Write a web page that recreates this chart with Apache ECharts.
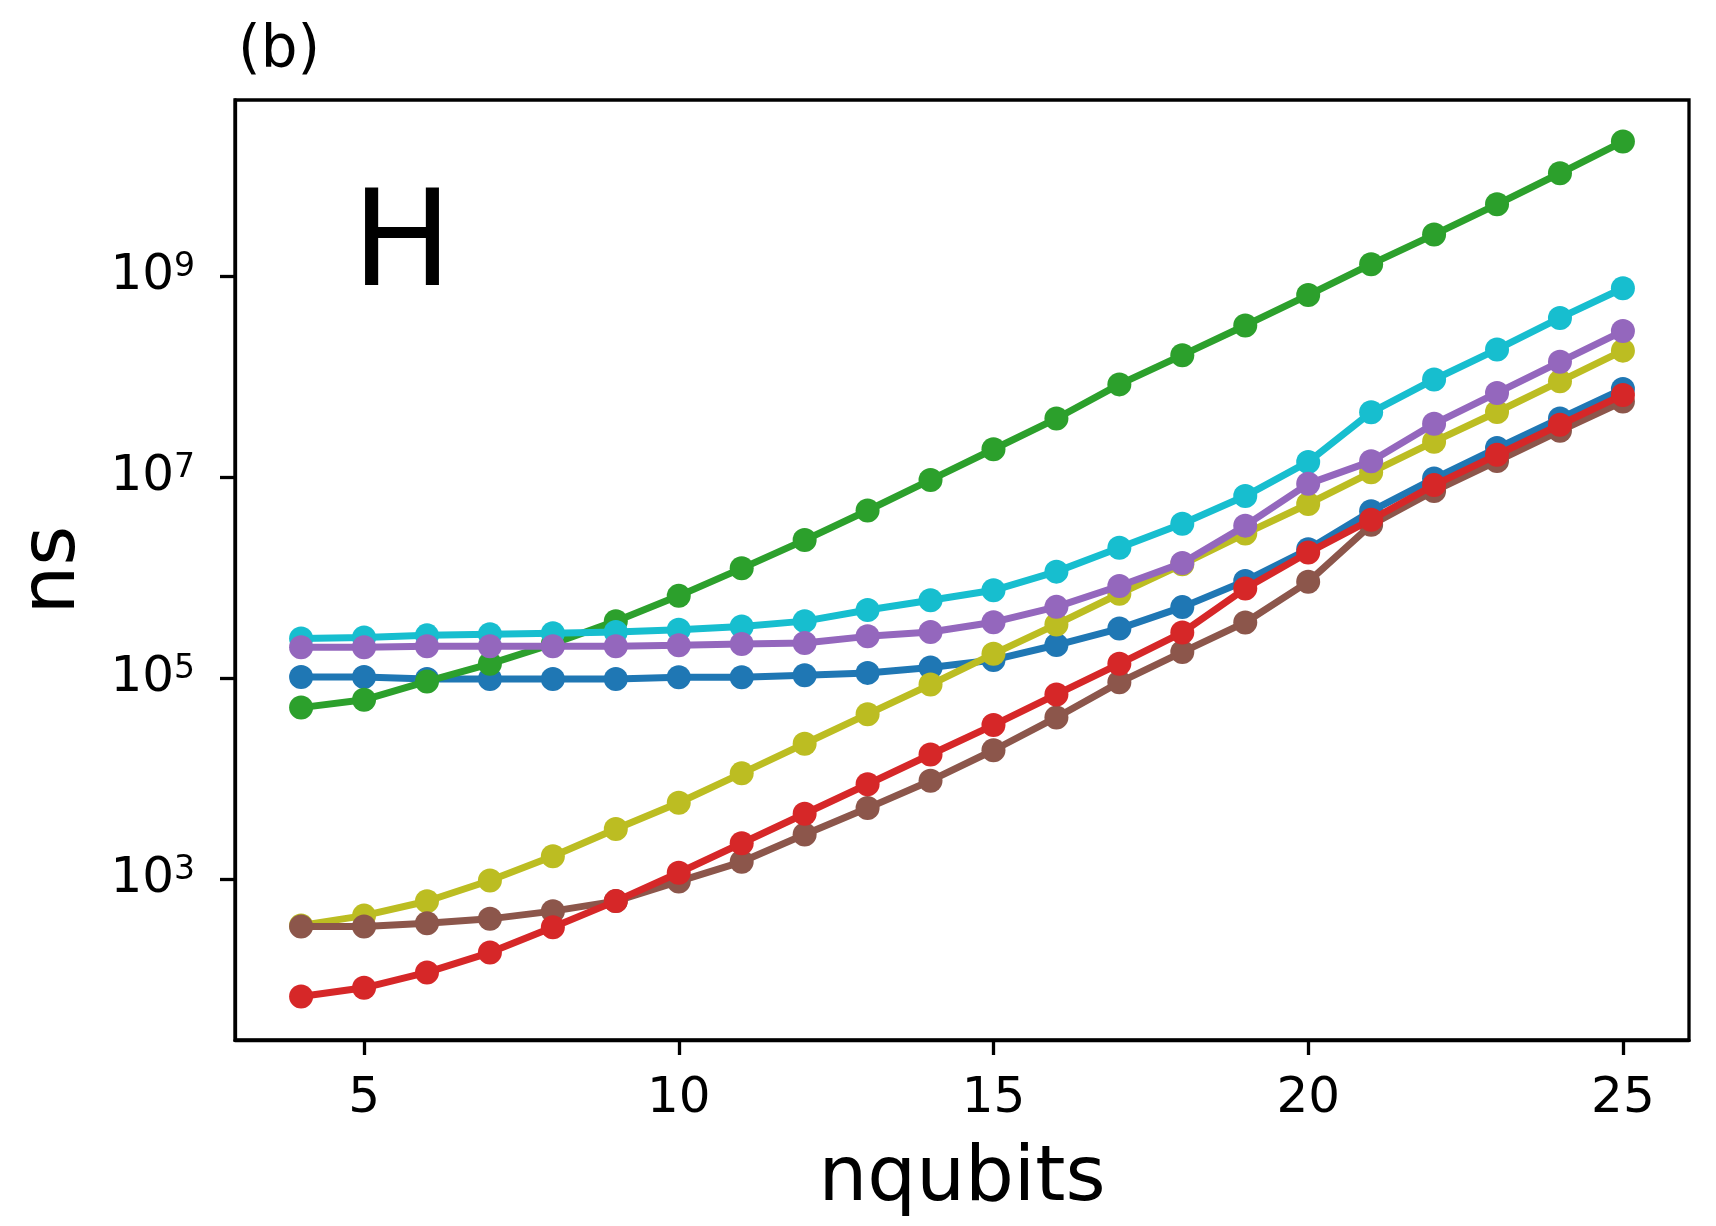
<!DOCTYPE html>
<html>
<head>
<meta charset="utf-8">
<script src="https://cdn.jsdelivr.net/npm/echarts@6/dist/echarts.min.js"></script>
<style>
html,body{margin:0;padding:0;background:#fff;}
#c{width:1716px;height:1226px;}
</style>
</head>
<body>
<div id="c"></div>
<script>
const nqubits = [4,5,6,7,8,9,10,11,12,13,14,15,16,17,18,19,20,21,22,23,24,25];
const xTicks = [5,10,15,20,25];
const yTicks = [1e3,1e5,1e7,1e9];

const blueVals   = [1.03e5,1.03e5,9.8e4,9.8e4,9.8e4,9.8e4,1.02e5,1.02e5,1.07e5,1.13e5,1.28e5,1.52e5,2.14e5,3.12e5,5.1e5,9.3e5,1.92e6,4.6e6,9.7e6,1.95e7,3.84e7,7.55e7];
const greenVals  = [5.1e4,6.1e4,9.3e4,1.39e5,2.2e5,3.7e5,6.6e5,1.24e6,2.37e6,4.67e6,9.4e6,1.9e7,3.84e7,8.4e7,1.64e8,3.24e8,6.5e8,1.32e9,2.6e9,5.2e9,1.06e10,2.19e10];
const oliveVals  = [347,434,603,970,1690,3160,5760,1.13e4,2.23e4,4.39e4,8.65e4,1.75e5,3.43e5,6.93e5,1.36e6,2.75e6,5.42e6,1.12e7,2.26e7,4.46e7,9.0e7,1.82e8];
const cyanVals   = [2.48e5,2.54e5,2.67e5,2.74e5,2.81e5,2.88e5,3.03e5,3.27e5,3.7e5,4.77e5,5.97e5,7.5e5,1.15e6,1.99e6,3.45e6,6.5e6,1.42e7,4.43e7,9.4e7,1.87e8,3.85e8,7.6e8];
const brownVals  = [339,339,365,403,481,605,950,1490,2790,5100,9550,1.92e4,4.07e4,9.1e4,1.82e5,3.59e5,9.1e5,3.36e6,7.3e6,1.45e7,2.9e7,5.68e7];
const purpleVals = [2.03e5,2.03e5,2.08e5,2.08e5,2.08e5,2.08e5,2.13e5,2.19e5,2.24e5,2.61e5,2.88e5,3.61e5,5.13e5,8.27e5,1.4e6,3.3e6,8.6e6,1.44e7,3.4e7,6.9e7,1.41e8,2.85e8];
const redVals    = [68,83,118,186,332,605,1160,2280,4480,8800,1.74e4,3.42e4,6.9e4,1.39e5,2.85e5,7.8e5,1.78e6,3.78e6,8.35e6,1.67e7,3.33e7,6.6e7];

const seriesDefs = [
  {name:'blue',   color:'#1f77b4', vals: blueVals},
  {name:'green',  color:'#2ca02c', vals: greenVals},
  {name:'olive',  color:'#bcbd22', vals: oliveVals},
  {name:'cyan',   color:'#17becf', vals: cyanVals},
  {name:'brown',  color:'#8c564b', vals: brownVals},
  {name:'purple', color:'#9467bd', vals: purpleVals},
  {name:'red',    color:'#d62728', vals: redVals}
];

const FONT = 'DejaVu Sans';
const chart = echarts.init(document.getElementById('c'), null, {renderer:'canvas'});

const option = {
  animation: false,
  backgroundColor: '#fff',
  textStyle: {fontFamily: FONT},
  title: {
    text: '(b)', left: 233, top: 18,
    textStyle: {fontFamily: FONT, fontSize: 58, fontWeight: 'normal', color: '#000'}
  },
  graphic: [{
    type: 'text', left: 352, top: 184,
    style: {text: 'H', font: '133px "DejaVu Sans"', fill: '#000'}
  }],
  grid: {
    left: 235, top: 100, width: 1454, height: 940,
    containLabel: false, outerBoundsMode: 'none',
    show: true, borderColor: '#000', borderWidth: 3.3, backgroundColor: 'transparent'
  },
  xAxis: {
    type: 'value', min: 2.95, max: 26.05,
    name: 'nqubits', nameLocation: 'middle', nameGap: 101,
    nameTextStyle: {fontFamily: FONT, fontSize: 77, color: '#000'},
    axisLine: {show: true, lineStyle: {color: '#000', width: 3.3}},
    axisTick: {show: true, inside: false, length: 15, lineStyle: {color: '#000', width: 3.3}, customValues: xTicks},
    axisLabel: {fontFamily: FONT, fontSize: 50, color: '#000', margin: 34, customValues: xTicks},
    splitLine: {show: false}
  },
  yAxis: {
    type: 'log', logBase: 10, min: 25.1, max: 5.68e10,
    name: 'ns', nameLocation: 'middle', nameGap: 143, nameRotate: 90,
    nameTextStyle: {fontFamily: FONT, fontSize: 77, color: '#000'},
    axisLine: {show: true, lineStyle: {color: '#000', width: 3.3}},
    axisTick: {show: true, inside: false, length: 15, lineStyle: {color: '#000', width: 3.3}, customValues: yTicks},
    axisLabel: {
      margin: 40, customValues: yTicks,
      formatter: function (v) {
        const e = Math.round(Math.log10(v));
        return '{b|10}{s|' + e + '}';
      },
      rich: {
        b: {fontFamily: FONT, fontSize: 50, lineHeight: 50, color: '#000', verticalAlign: 'bottom'},
        s: {fontFamily: FONT, fontSize: 33, lineHeight: 33, color: '#000', verticalAlign: 'top', padding: [0,0,24,0]}
      }
    },
    splitLine: {show: false},
    minorTick: {show: false}
  },
  series: seriesDefs.map((s, i) => ({
    name: s.name,
    type: 'line',
    z: 2 + i,
    data: nqubits.map((x, k) => [x, s.vals[k]]),
    symbol: 'circle',
    symbolSize: 24,
    showSymbol: true,
    lineStyle: {color: s.color, width: 7},
    itemStyle: {color: s.color, borderWidth: 0},
    emphasis: {disabled: true},
    clip: false
  }))
};
chart.setOption(option);
</script>
</body>
</html>
